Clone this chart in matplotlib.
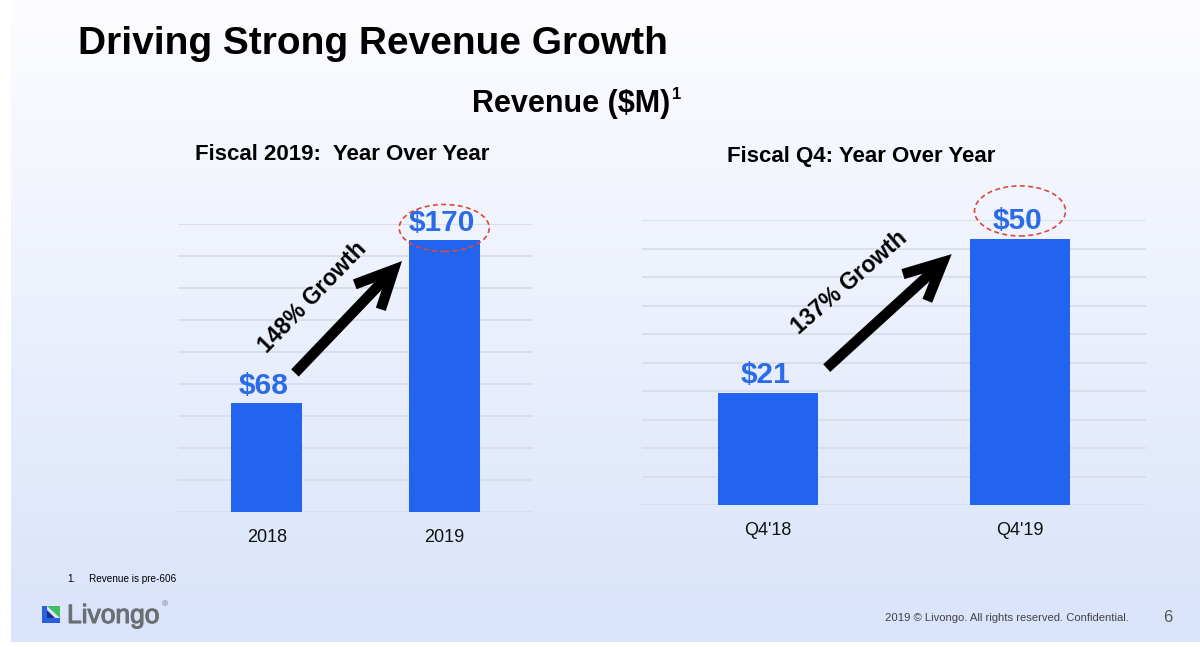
import numpy as np
import matplotlib

matplotlib.use("Agg")

import matplotlib.pyplot as plt
import matplotlib.patheffects as pe
from matplotlib.patches import Ellipse, FancyArrowPatch, Polygon

plt.rcParams["font.family"] = ["Liberation Sans", "DejaVu Sans"]

# chart data
fiscal_years = ["2018", "2019"]
fiscal_revenue = [68, 170]
quarters = ["Q4'18", "Q4'19"]
quarter_revenue = [21, 50]
growth_labels = ["148% Growth", "137% Growth"]

BAR_BLUE = "#2264ee"
LABEL_BLUE = "#2b6be8"
GRID = "#d9dde6"

W, H = 1200, 647
fig = plt.figure(figsize=(W / 100, H / 100), dpi=100)


def px(x, y):
    """pixel position (top-left origin) -> figure fraction"""
    return x / W, 1 - y / H


# slide background: white at top fading to light blue
bg = fig.add_axes([0, 0, 1, 1], zorder=-10)
bg.set_xlim(0, 1)
bg.set_ylim(0, 1)
bg.axis("off")
grad = np.linspace(0, 1, 256).reshape(-1, 1)
bg.imshow(
    grad,
    extent=[11 / W, 1, 5 / H, 1],
    cmap=matplotlib.colors.LinearSegmentedColormap.from_list("bg", ["#d9e3fa", "#fdfdff"]),
    origin="lower",
    aspect="auto",
)


def draw_panel(rect, labels, values, ymax, step):
    ax = fig.add_axes(rect)
    x = np.arange(len(values))
    ax.bar(x, values, width=0.4, color=BAR_BLUE, zorder=3)
    ax.set_xlim(-0.5, len(values) - 0.5)
    ax.set_ylim(0, ymax)
    ax.set_yticks(np.arange(0, ymax + step / 2, step))
    ax.set_xticks(x)
    ax.set_xticklabels(labels, fontsize=13, color="#111111")
    ax.tick_params(axis="x", length=0, pad=12)
    ax.tick_params(axis="y", length=0, labelleft=False)
    ax.grid(axis="y", color=GRID, linewidth=1.3)
    ax.set_axisbelow(True)
    for s in ax.spines.values():
        s.set_visible(False)
    ax.patch.set_alpha(0)
    for i, v in enumerate(values):
        ax.annotate(f"${v}", (i, v), xytext=(-2, 7), textcoords="offset points",
                    ha="center", va="baseline", fontsize=21.5, fontweight="bold",
                    color=LABEL_BLUE, zorder=5)
    return ax


# left panel: fiscal year
ax1 = draw_panel([178 / W, 135 / H, 355 / W, 287.7 / H], fiscal_years, fiscal_revenue, 180, 20)
# right panel: fourth quarter
ax2 = draw_panel([642 / W, 142 / H, 504 / W, 285 / H], quarters, quarter_revenue, 53.5, 5.35)

# dashed red rings around the latest value
ax1.add_patch(Ellipse((1, fiscal_revenue[1] + 7.7), 0.507, 29.4, fill=False,
                      edgecolor="#e0463f", linestyle=(0, (3, 2)), linewidth=1.2,
                      clip_on=False, zorder=6))
ax2.add_patch(Ellipse((1, quarter_revenue[1] + 5.2), 0.361, 9.4, fill=False,
                      edgecolor="#e0463f", linestyle=(0, (3, 2)), linewidth=1.2,
                      clip_on=False, zorder=6))

# growth arrows and labels
arrow_style = matplotlib.patches.ArrowStyle("->", head_length=27, head_width=13)
ax1.add_patch(FancyArrowPatch((0.159, fiscal_revenue[0] + 19), (0.762, fiscal_revenue[1] - 13),
                              arrowstyle=arrow_style, mutation_scale=1, linewidth=7.5,
                              color="black", shrinkA=0, shrinkB=0, joinstyle="miter",
                              capstyle="butt", zorder=6))
ax1.text(0.261, 134.5, growth_labels[0], rotation=46, rotation_mode="anchor",
         ha="center", va="center", fontsize=16.5, fontweight="bold", zorder=6)

ax2.add_patch(FancyArrowPatch((0.233, quarter_revenue[0] + 4.7), (0.729, quarter_revenue[1] - 2.9),
                              arrowstyle=arrow_style, mutation_scale=1, linewidth=7.5,
                              color="black", shrinkA=0, shrinkB=0, joinstyle="miter",
                              capstyle="butt", zorder=6))
ax2.text(0.325, 41.7, growth_labels[1], rotation=41, rotation_mode="anchor",
         ha="center", va="center", fontsize=16.5, fontweight="bold", zorder=6)

# titles
fig.text(*px(78, 54), "Driving Strong Revenue Growth", fontsize=28, fontweight="bold",
         va="baseline", ha="left")
fig.text(*px(472, 112), "Revenue ($M)", fontsize=22, fontweight="bold", va="baseline", ha="left")
fig.text(*px(672, 99), "1", fontsize=12, fontweight="bold", va="baseline", ha="left")
fig.text(*px(195, 160), "Fiscal 2019:  Year Over Year", fontsize=16, fontweight="bold",
         va="baseline", ha="left")
fig.text(*px(727, 162), "Fiscal Q4: Year Over Year", fontsize=16, fontweight="bold",
         va="baseline", ha="left")

# footnote and footer
fig.text(*px(67, 582), "1.", fontsize=7.2, va="baseline", ha="left")
fig.text(*px(89, 582), "Revenue is pre-606", fontsize=7.2, va="baseline", ha="left")
fig.text(*px(67, 623), "Livongo", fontsize=19, color="#6b6e73", va="baseline", ha="left",
         path_effects=[pe.withStroke(linewidth=0.8, foreground="#6b6e73")])
fig.text(*px(162, 606), "®", fontsize=6, color="#6b6e73", va="baseline", ha="left")
fig.text(*px(885, 621), "2019 © Livongo. All rights reserved. Confidential.", fontsize=8.1,
         color="#444444", va="baseline", ha="left")
fig.text(*px(1168, 622), "6", fontsize=12, color="#555555", va="baseline", ha="center")

# logo mark
fig.patches.append(Polygon([px(47, 606), px(60, 606), px(60, 618)], closed=True,
                           facecolor="#3fbf5a", edgecolor="none", transform=fig.transFigure))
fig.patches.append(Polygon([px(42, 606), px(47, 606), px(47, 618), px(60, 618), px(60, 623), px(42, 623)],
                           closed=True, facecolor="#2a5fe0", edgecolor="none", transform=fig.transFigure))
fig.patches.append(Polygon([px(47, 610), px(55, 618), px(47, 618)], closed=True,
                           facecolor="#1c2f8a", edgecolor="none", transform=fig.transFigure))

fig.savefig("out.png", dpi=100)
plt.close(fig)
